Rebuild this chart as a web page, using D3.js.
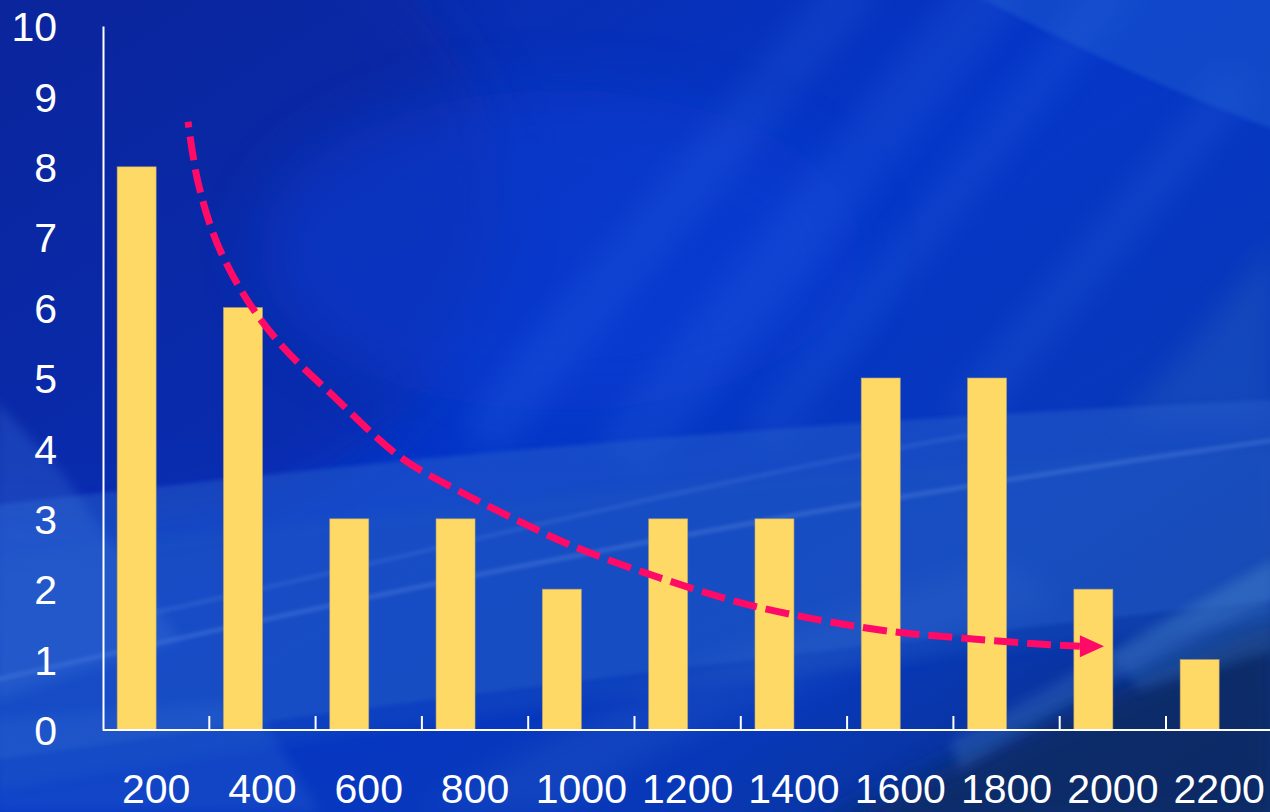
<!DOCTYPE html>
<html><head><meta charset="utf-8">
<script src="https://cdn.jsdelivr.net/npm/d3@7"></script>
<style>html,body{margin:0;padding:0;background:#0633c4;overflow:hidden}svg{display:block}</style>
</head><body><svg id="c" width="1270" height="812"></svg>
<script>
// ---- data ----
const categories = ["200","400","600","800","1000","1200","1400","1600","1800","2000","2200"];
const counts = [8,6,3,3,2,3,3,5,5,2,1];
const seriesNames = ["count", "blank"];
const yTickValues = [0,1,2,3,4,5,6,7,8,9,10];
// hand-drawn trend arrow, in (category index units, value units)
const trendX = [0.80,0.894,1.072,1.355,1.693,2.135,2.794,3.330,3.895,4.393,5.240,6.152,7.310,7.968,8.909,9.19];
const trendY = [8.64,7.78,6.92,6.11,5.44,4.79,3.88,3.41,2.98,2.63,2.16,1.75,1.42,1.32,1.21,1.19];
const arrowTip = [9.417, 1.19];

const W = 1270, H = 812;
const svg = d3.select("#c");
const defs = svg.append("defs");

// ---- background ----
const g0 = defs.append("linearGradient").attr("id","bg").attr("x1","0").attr("y1","0").attr("x2","1").attr("y2","1");
g0.append("stop").attr("offset","0").attr("stop-color","#0a28a2");
g0.append("stop").attr("offset","0.45").attr("stop-color","#0536c8");
g0.append("stop").attr("offset","0.75").attr("stop-color","#0838b8");
g0.append("stop").attr("offset","1").attr("stop-color","#0a2e78");
[["b2",2],["b6",6],["b14",14],["b30",30]].forEach(([id,s])=>{
  defs.append("filter").attr("id",id).attr("x","-20%").attr("y","-20%").attr("width","140%").attr("height","140%")
    .append("feGaussianBlur").attr("stdDeviation",s);
});
const bg = svg.append("g");
bg.append("rect").attr("width",W).attr("height",H).attr("fill","url(#bg)");
bg.append("ellipse").attr("cx",120).attr("cy",200).attr("rx",380).attr("ry",320).attr("fill","#0a2296").attr("opacity",0.45).attr("filter","url(#b30)");
bg.append("ellipse").attr("cx",560).attr("cy",250).attr("rx",300).attr("ry",160).attr("fill","#0a3fd8").attr("opacity",0.45).attr("filter","url(#b30)");
[[1000,-20,620,460,60],[1120,-20,760,440,40],[860,-20,480,440,50],[1240,80,960,420,40]].forEach(([x1,y1,x2,y2,w])=>{
  bg.append("line").attr("x1",x1).attr("y1",y1).attr("x2",x2).attr("y2",y2)
   .attr("stroke","#3c78e8").attr("stroke-width",w).attr("opacity",0.15).attr("filter","url(#b14)");
});
bg.append("path").attr("d","M975,-5 L1275,-5 L1275,130 C1180,95 1080,50 975,-5Z").attr("fill","#2263d2").attr("opacity",0.42).attr("filter","url(#b2)");
bg.append("path").attr("d","M1275,240 C1230,300 1180,360 1120,420 L1275,420Z").attr("fill","#2a64c0").attr("opacity",0.35).attr("filter","url(#b14)");
bg.append("path").attr("d","M-5,505 C300,470 700,425 1275,400 L1275,600 C900,640 400,700 -5,760Z").attr("fill","#2a62cc").attr("opacity",0.45).attr("filter","url(#b2)");
bg.append("path").attr("d","M-5,560 C300,520 700,470 1275,450 L1275,620 C900,660 400,720 -5,790Z").attr("fill","#1e56c0").attr("opacity",0.3).attr("filter","url(#b6)");
bg.append("path").attr("d","M-5,680 C300,610 700,520 1275,440").attr("fill","none").attr("stroke","#9cc4ff").attr("stroke-width",2.5).attr("opacity",0.35).attr("filter","url(#b2)");
bg.append("path").attr("d","M120,620 C400,560 700,480 1000,430").attr("fill","none").attr("stroke","#9cc4ff").attr("stroke-width",2).attr("opacity",0.25).attr("filter","url(#b2)");
bg.append("path").attr("d","M-5,400 L60,470 L180,640 L-5,700Z").attr("fill","#3c74d8").attr("opacity",0.3).attr("filter","url(#b6)");
bg.append("path").attr("d","M-5,720 L250,700 L320,812 L-5,812Z").attr("fill","#2f68d0").attr("opacity",0.3).attr("filter","url(#b6)");
bg.append("path").attr("d","M820,830 C950,760 1100,700 1280,620 L1280,830Z").attr("fill","#0a2a62").attr("opacity",0.85).attr("filter","url(#b14)");
bg.append("path").attr("d","M950,740 C1050,690 1160,620 1275,560 L1275,600 C1160,650 1060,710 960,770Z").attr("fill","#4a80c8").attr("opacity",0.3).attr("filter","url(#b6)");
bg.append("path").attr("d","M1110,655 L1275,560 L1275,650 L1140,690Z").attr("fill","#3a7ac8").attr("opacity",0.3).attr("filter","url(#b6)");
bg.append("path").attr("d","M420,812 C600,700 800,620 1000,560 L1060,600 C850,660 650,740 560,812Z").attr("fill","#3a70d0").attr("opacity",0.2).attr("filter","url(#b14)");

// ---- scales ----
const x = d3.scaleBand().domain(categories).range([103, 1272.3]).padding(0);
const xs = d3.scaleBand().domain(seriesNames).range([0, x.bandwidth()]).paddingInner(0).paddingOuter(0.363);
const xu = d3.scaleLinear().domain([0, categories.length]).range(x.range());
const y = d3.scaleLinear().domain([0, 10]).range([730, 26]);

const font = "'Liberation Sans', Arial, sans-serif";

// ---- bars ----
svg.append("g").selectAll("rect").data(counts).join("rect")
  .attr("x", (d,i)=> x(categories[i]) + xs("count"))
  .attr("width", xs.bandwidth())
  .attr("y", d=> y(d))
  .attr("height", d=> y(0)-y(d))
  .attr("fill", "#ffd966")
  .attr("stroke", "#b9a36a").attr("stroke-width", 0.8).attr("stroke-opacity",0.7);

// ---- axes ----
svg.append("line").attr("x1",103).attr("x2",W).attr("y1",y(0)).attr("y2",y(0)).attr("stroke","#fff").attr("stroke-width",2);
svg.append("g").selectAll("line").data(categories.slice(1)).join("line")
  .attr("x1", d=> x(d)).attr("x2", d=> x(d))
  .attr("y1", y(0)).attr("y2", y(0)-14)
  .attr("stroke","#fff").attr("stroke-width",2);
svg.append("g").selectAll("text").data(categories).join("text")
  .attr("x", d=> x(d) + x.bandwidth()/2).attr("y", 803)
  .attr("text-anchor","middle").attr("fill","#fff")
  .attr("font-family", font).attr("font-size", 41)
  .text(d=> d);

const yAxis = svg.append("g").attr("transform","translate(103,0)")
  .call(d3.axisLeft(y).tickValues(yTickValues).tickSize(0).tickPadding(46));
yAxis.select(".domain").attr("stroke","#fff").attr("stroke-width",2);
yAxis.selectAll("text").attr("fill","#fff").attr("font-family",font).attr("font-size",41).attr("dy","0.36em");

// ---- trend arrow ----
const pts = trendX.map((u,i)=>[xu(u), y(trendY[i])]);
svg.append("path").attr("d", d3.line().curve(d3.curveCatmullRom.alpha(0.5))(pts))
  .attr("fill","none").attr("stroke","#ff0a66").attr("stroke-width",7)
  .attr("stroke-dasharray","24,9").attr("stroke-dashoffset",18);
const base = pts[pts.length-1];
const tip = [xu(arrowTip[0]), y(arrowTip[1])];
const ang = Math.atan2(tip[1]-base[1], tip[0]-base[0]);
const hw = 11, nx = -Math.sin(ang)*hw, ny = Math.cos(ang)*hw;
svg.append("path").attr("d", `M${tip[0]},${tip[1]}L${base[0]+nx},${base[1]+ny}L${base[0]-nx},${base[1]-ny}Z`)
  .attr("fill","#ff0a66");
</script></body></html>
